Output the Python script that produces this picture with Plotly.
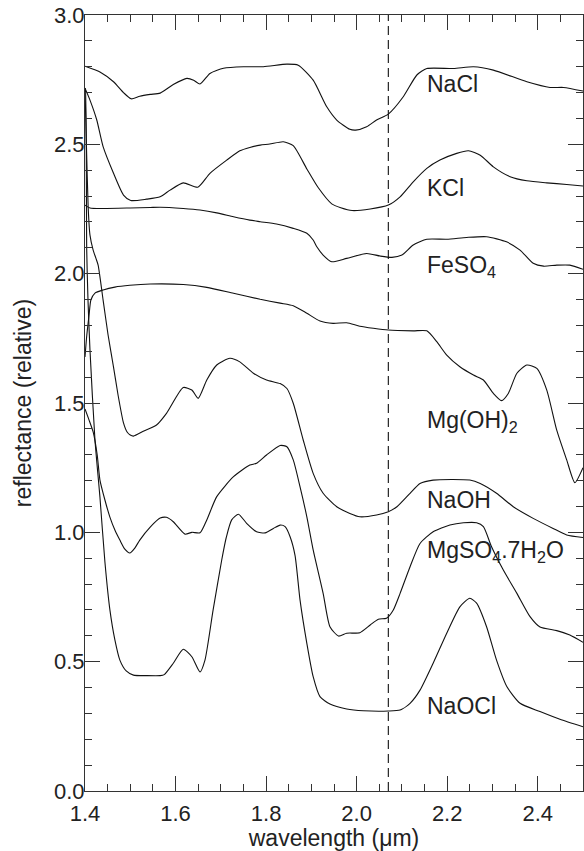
import plotly.graph_objects as go

# ---------------- data ----------------
nacl_x = [1.400, 1.433, 1.463, 1.485, 1.502, 1.521, 1.544, 1.566, 1.595, 1.625, 1.640, 1.654,
          1.676, 1.706, 1.750, 1.794, 1.846, 1.871, 1.904, 1.934, 1.956, 1.985, 1.998, 2.022,
          2.044, 2.070, 2.103, 2.133, 2.155, 2.214, 2.258, 2.302, 2.376, 2.427, 2.457, 2.500]
nacl_y = [2.802, 2.780, 2.742, 2.700, 2.676, 2.686, 2.693, 2.698, 2.731, 2.755, 2.748, 2.733,
          2.774, 2.794, 2.800, 2.800, 2.810, 2.806, 2.748, 2.645, 2.594, 2.558, 2.555, 2.568,
          2.594, 2.617, 2.684, 2.768, 2.793, 2.793, 2.800, 2.787, 2.742, 2.720, 2.720, 2.706]

kcl_x = [1.400, 1.411, 1.426, 1.440, 1.463, 1.485, 1.501, 1.536, 1.566, 1.588, 1.617, 1.649,
         1.676, 1.713, 1.742, 1.764, 1.787, 1.808, 1.838, 1.860, 1.890, 1.915, 1.945, 1.965,
         1.990, 2.030, 2.070, 2.096, 2.125, 2.155, 2.184, 2.221, 2.247, 2.273, 2.302, 2.339,
         2.376, 2.420, 2.464, 2.500]
kcl_y = [2.717, 2.671, 2.594, 2.491, 2.388, 2.304, 2.283, 2.288, 2.297, 2.323, 2.351, 2.334,
         2.388, 2.439, 2.475, 2.488, 2.497, 2.501, 2.510, 2.495, 2.405, 2.333, 2.270, 2.255,
         2.244, 2.250, 2.265, 2.297, 2.355, 2.407, 2.439, 2.465, 2.475, 2.458, 2.413, 2.375,
         2.359, 2.351, 2.345, 2.339]

feso4_x = [1.400, 1.411, 1.440, 1.500, 1.544, 1.566, 1.617, 1.654, 1.691, 1.728, 1.764, 1.787,
           1.823, 1.860, 1.890, 1.904, 1.912, 1.926, 1.945, 1.978, 2.022, 2.052, 2.078, 2.100,
           2.125, 2.155, 2.199, 2.243, 2.287, 2.331, 2.361, 2.390, 2.413, 2.442, 2.471, 2.500]
feso4_y = [2.265, 2.254, 2.252, 2.254, 2.256, 2.257, 2.252, 2.246, 2.235, 2.220, 2.207, 2.201,
           2.192, 2.175, 2.156, 2.130, 2.104, 2.072, 2.046, 2.059, 2.078, 2.068, 2.063, 2.072,
           2.111, 2.133, 2.133, 2.140, 2.143, 2.123, 2.091, 2.040, 2.029, 2.033, 2.033, 2.017]

mgoh2_x = [1.400, 1.404, 1.409, 1.413, 1.422, 1.440, 1.466, 1.499, 1.544, 1.617, 1.669, 1.728,
           1.787, 1.831, 1.860, 1.890, 1.919, 1.948, 1.978, 2.007, 2.037, 2.070, 2.125, 2.155,
           2.177, 2.199, 2.228, 2.258, 2.280, 2.302, 2.320, 2.335, 2.354, 2.376, 2.398, 2.420,
           2.442, 2.464, 2.482, 2.500]
mgoh2_y = [1.678, 1.763, 1.840, 1.898, 1.925, 1.937, 1.948, 1.955, 1.960, 1.958, 1.947, 1.924,
           1.901, 1.886, 1.876, 1.847, 1.817, 1.808, 1.810, 1.797, 1.789, 1.782, 1.779, 1.779,
           1.737, 1.685, 1.640, 1.608, 1.589, 1.537, 1.509, 1.537, 1.615, 1.647, 1.634, 1.550,
           1.395, 1.280, 1.192, 1.250]

naoh_x = [1.400, 1.403, 1.407, 1.411, 1.418, 1.424, 1.429, 1.440, 1.451, 1.463, 1.473, 1.485,
          1.493, 1.500, 1.507, 1.530, 1.558, 1.580, 1.617, 1.636, 1.650, 1.669, 1.691, 1.720,
          1.742, 1.772, 1.801, 1.831, 1.846, 1.860, 1.882, 1.904, 1.926, 1.956, 1.985, 2.007,
          2.044, 2.070, 2.089, 2.118, 2.140, 2.169, 2.250, 2.273, 2.309, 2.346, 2.390, 2.434,
          2.464, 2.500]
naoh_y = [2.717, 2.505, 2.257, 2.149, 2.091, 2.060, 2.033, 1.898, 1.763, 1.639, 1.531, 1.423,
          1.388, 1.376, 1.372, 1.392, 1.415, 1.460, 1.560, 1.550, 1.518, 1.589, 1.647, 1.673,
          1.659, 1.615, 1.589, 1.575, 1.556, 1.499, 1.357, 1.228, 1.151, 1.099, 1.073, 1.060,
          1.067, 1.080, 1.099, 1.151, 1.189, 1.202, 1.202, 1.189, 1.151, 1.099, 1.054, 1.015,
          0.990, 0.980]

mgso4_x = [1.400, 1.409, 1.418, 1.427, 1.433, 1.444, 1.455, 1.466, 1.477, 1.488, 1.499, 1.510,
           1.521, 1.544, 1.566, 1.580, 1.595, 1.621, 1.636, 1.654, 1.669, 1.691, 1.728, 1.764,
           1.779, 1.801, 1.831, 1.846, 1.860, 1.875, 1.890, 1.904, 1.926, 1.941, 1.960, 1.978,
           2.007, 2.030, 2.048, 2.066, 2.081, 2.096, 2.118, 2.140, 2.169, 2.206, 2.236, 2.265,
           2.280, 2.298, 2.324, 2.354, 2.383, 2.405, 2.442, 2.471, 2.500]
mgso4_y = [1.477, 1.434, 1.388, 1.299, 1.202, 1.125, 1.059, 1.009, 0.970, 0.935, 0.920, 0.939,
           0.970, 1.020, 1.055, 1.058, 1.041, 0.993, 1.000, 0.998, 1.048, 1.138, 1.215, 1.260,
           1.267, 1.299, 1.336, 1.331, 1.280, 1.176, 1.060, 0.932, 0.764, 0.635, 0.599, 0.610,
           0.612, 0.642, 0.664, 0.668, 0.700, 0.764, 0.867, 0.957, 1.002, 1.028, 1.037, 1.037,
           1.022, 0.944, 0.854, 0.764, 0.674, 0.634, 0.620, 0.603, 0.575]

naocl_x = [1.400, 1.4015, 1.4038, 1.4066, 1.411, 1.422, 1.433, 1.444, 1.455, 1.466, 1.477, 1.491,
           1.507, 1.536, 1.566, 1.575, 1.595, 1.617, 1.636, 1.654, 1.665, 1.683, 1.702, 1.712,
           1.724, 1.739, 1.757, 1.779, 1.798, 1.816, 1.831, 1.842, 1.853, 1.864, 1.875, 1.890,
           1.904, 1.919, 1.941, 1.978, 2.015, 2.070, 2.096, 2.118, 2.140, 2.169, 2.199, 2.228,
           2.250, 2.265, 2.287, 2.309, 2.332, 2.361, 2.405, 2.449, 2.500]
naocl_y = [2.700, 2.717, 2.091, 1.898, 1.705, 1.357, 1.136, 0.885, 0.700, 0.584, 0.506, 0.464,
           0.448, 0.446, 0.446, 0.450, 0.494, 0.548, 0.519, 0.460, 0.506, 0.700, 0.893, 0.980,
           1.048, 1.070, 1.035, 1.002, 0.998, 1.015, 1.028, 1.022, 0.983, 0.910, 0.738, 0.571,
           0.442, 0.365, 0.336, 0.317, 0.310, 0.309, 0.313, 0.339, 0.390, 0.494, 0.610, 0.712,
           0.745, 0.726, 0.635, 0.506, 0.403, 0.339, 0.307, 0.277, 0.248]

series = [
    ("NaCl", nacl_x, nacl_y),
    ("KCl", kcl_x, kcl_y),
    ("FeSO4", feso4_x, feso4_y),
    ("Mg(OH)2", mgoh2_x, mgoh2_y),
    ("NaOH", naoh_x, naoh_y),
    ("MgSO4.7H2O", mgso4_x, mgso4_y),
    ("NaOCl", naocl_x, naocl_y),
]

label_texts = ["NaCl", "KCl", "FeSO<sub>4</sub>", "Mg(OH)<sub>2</sub>", "NaOH",
               "MgSO<sub>4</sub>.7H<sub>2</sub>O", "NaOCl"]
label_x = [2.151, 2.151, 2.151, 2.151, 2.151, 2.151, 2.151]
label_y = [2.733, 2.331, 2.029, 1.430, 1.125, 0.925, 0.329]

marker_wavelength = 2.07

x_ticks = [1.4, 1.6, 1.8, 2.0, 2.2, 2.4]
y_ticks = [0.0, 0.5, 1.0, 1.5, 2.0, 2.5, 3.0]

# ---------------- figure ----------------
fig = go.Figure()
for name, xs, ys in series:
    fig.add_trace(go.Scatter(x=xs, y=ys, mode="lines", name=name,
                             line=dict(color="#111111", width=1.1, shape="spline", smoothing=0.6),
                             showlegend=False, hoverinfo="skip"))

fig.add_shape(type="line", xref="x", yref="paper", x0=marker_wavelength, x1=marker_wavelength,
              y0=0, y1=1, line=dict(color="#111111", width=1.1, dash="9px,5px"))

for t, lx, ly in zip(label_texts, label_x, label_y):
    fig.add_annotation(x=lx, y=ly, xref="x", yref="y", text=t, showarrow=False,
                       xanchor="left", yanchor="middle",
                       font=dict(size=23, color="#222222"))

axis_common = dict(
    showline=True, linecolor="#333333", linewidth=1,
    mirror="allticks", ticks="inside", ticklen=15, tickwidth=1, tickcolor="#333333",
    showgrid=False, zeroline=False,
    tickfont=dict(size=22, color="#222222"),
)

fig.update_xaxes(range=[1.4, 2.5], tickvals=x_ticks, ticktext=[f"{v:.1f}" for v in x_ticks],
                 minor=dict(dtick=0.05, tick0=1.4, ticks="inside", ticklen=7,
                            tickcolor="#333333", tickwidth=1, showgrid=False),
                 title=dict(text="wavelength (μm)", font=dict(size=23, color="#222222"), standoff=19),
                 ticklabelstandoff=3,
                 **axis_common)
fig.update_yaxes(range=[0, 3.0], tickvals=y_ticks, ticktext=[f"{v:.1f}" for v in y_ticks],
                 minor=dict(dtick=0.1, tick0=0, ticks="inside", ticklen=7,
                            tickcolor="#333333", tickwidth=1, showgrid=False),
                 title=dict(text="reflectance (relative)", font=dict(size=23, color="#222222"), standoff=15),
                 ticklabelstandoff=-5,
                 **axis_common)

fig.update_layout(
    width=584, height=851,
    margin=dict(l=85, r=1, t=15, b=60, autoexpand=False),
    plot_bgcolor="white", paper_bgcolor="white",
    font=dict(family="Liberation Sans, Arial, Helvetica, sans-serif", color="#222222"),
    showlegend=False,
)

fig.write_html("out.html",
               config={"displayModeBar": False, "staticPlot": True},
               post_script="document.body.style.margin='0';document.body.style.overflow='hidden';")
